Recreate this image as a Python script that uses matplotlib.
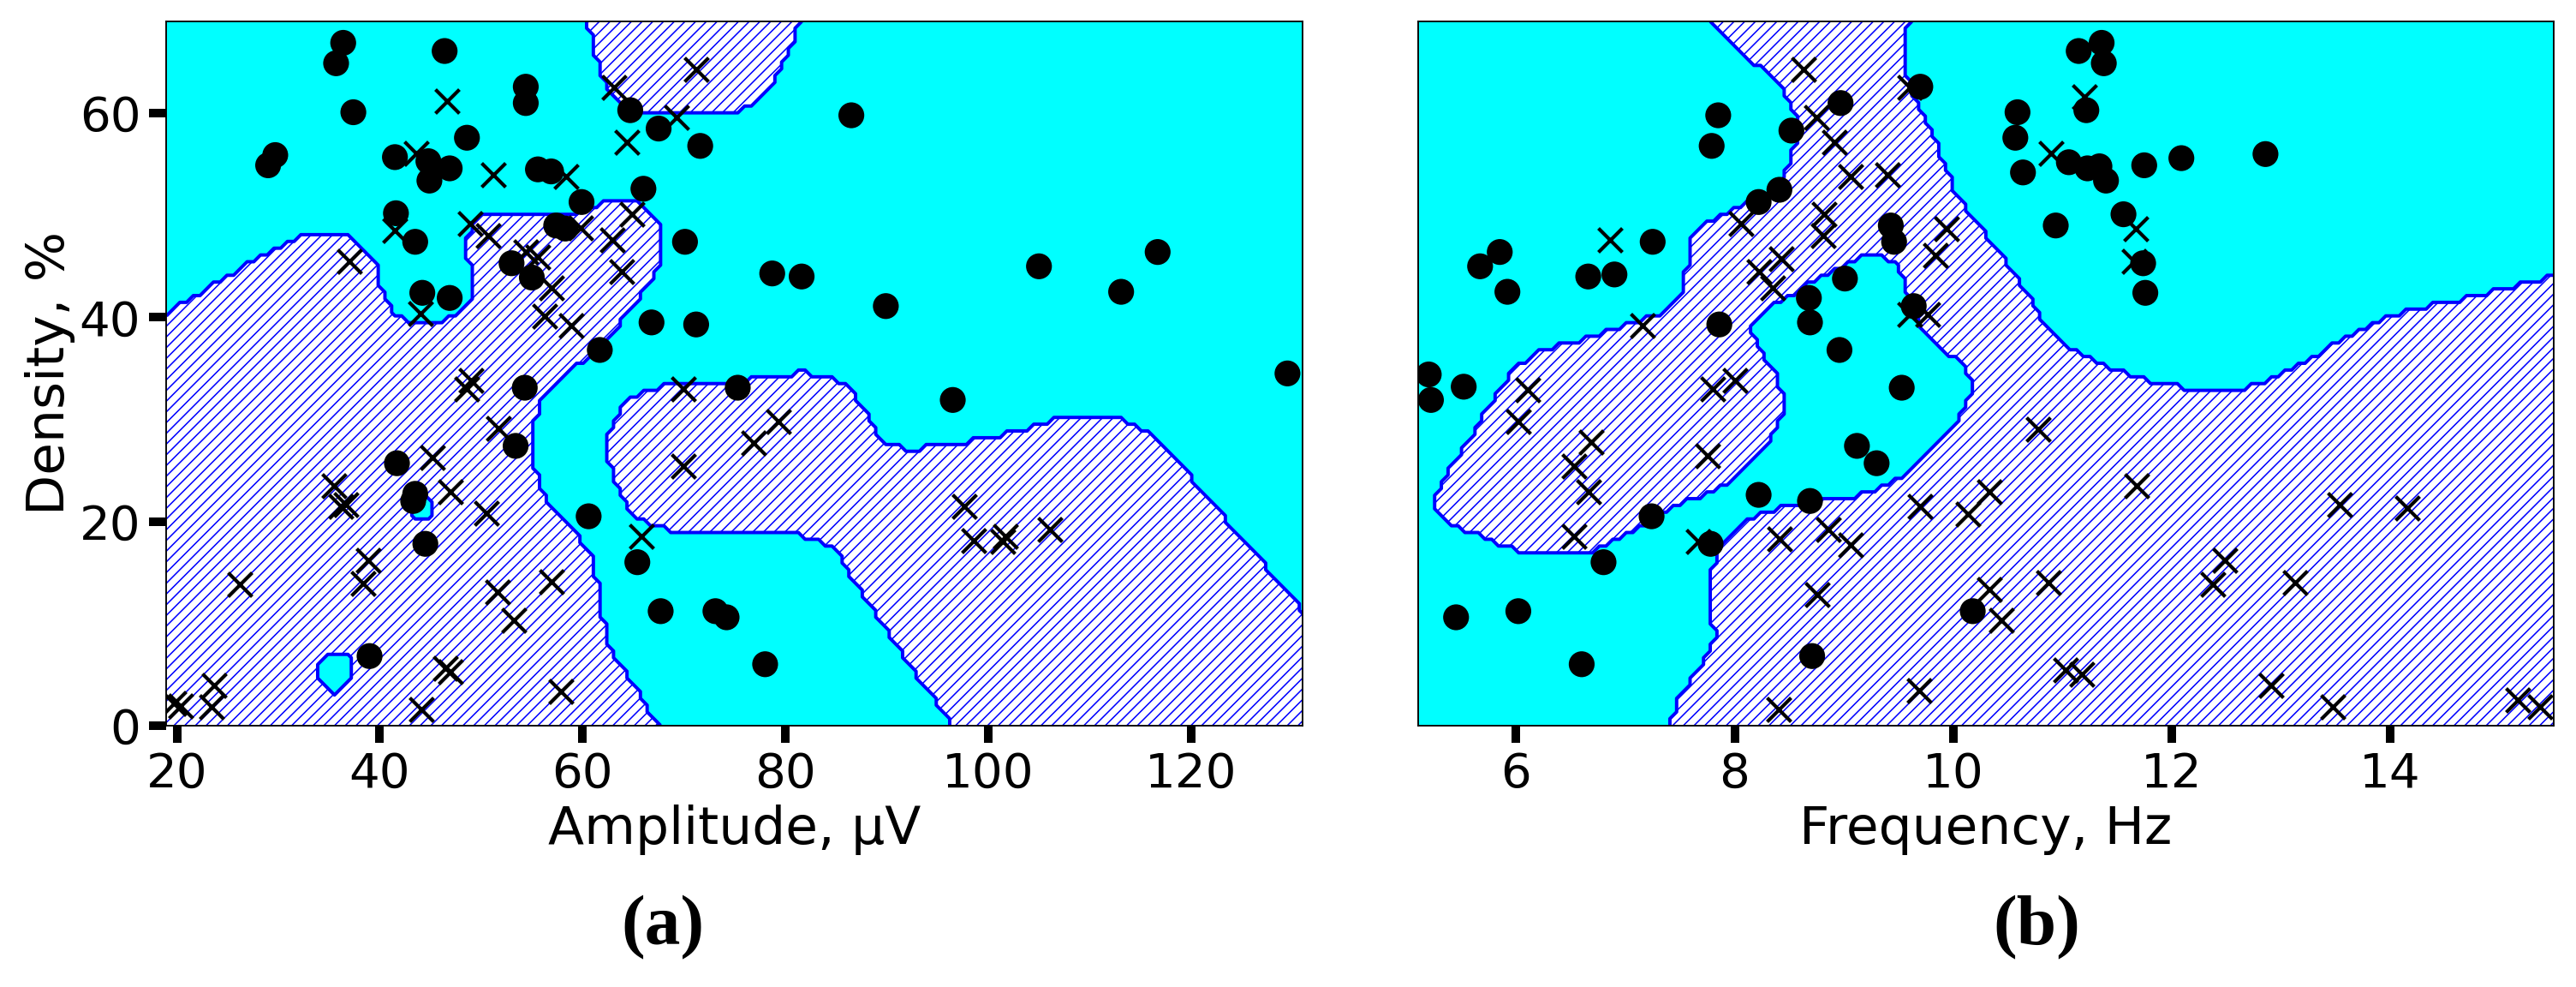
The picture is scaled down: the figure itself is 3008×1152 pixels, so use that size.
import numpy as np
import matplotlib
matplotlib.use("Agg")
import matplotlib.pyplot as plt

# ---------------- data ----------------
# Panel (a): Amplitude (uV) vs Density (%)
amp_dot_x = [36.4, 35.7, 46.4, 54.4, 54.4, 37.4, 29.7, 29.0, 41.5, 44.8, 46.9, 44.9, 48.6, 55.6,
             56.9, 59.9, 64.7, 67.5, 71.6, 66.0, 41.6, 43.5, 57.4, 58.3, 70.1, 53.0, 55.0, 44.2,
             46.9, 66.8, 71.2, 61.7, 86.5, 78.7, 81.6, 89.9, 105.0, 116.7, 113.1, 129.5, 54.3,
             53.4, 41.7, 43.5, 43.3, 44.5, 60.6, 65.4, 67.7, 73.1, 74.2, 39.0, 75.3, 96.5, 78.0]
amp_dot_y = [66.9, 64.9, 66.1, 62.6, 61.0, 60.1, 55.9, 54.9, 55.7, 55.3, 54.6, 53.4, 57.6, 54.5,
             54.3, 51.3, 60.3, 58.5, 56.8, 52.6, 50.2, 47.4, 49.0, 48.7, 47.4, 45.3, 43.9, 42.4,
             41.9, 39.5, 39.3, 36.8, 59.8, 44.3, 44.0, 41.1, 45.0, 46.4, 42.5, 34.5, 33.1,
             27.4, 25.7, 22.7, 22.0, 17.8, 20.5, 16.0, 11.2, 11.2, 10.6, 6.8, 33.1, 31.9, 6.0]
amp_cross_x = [71.2, 63.1, 46.6, 69.3, 64.4, 43.6, 51.2, 58.4, 48.9, 50.7, 59.8, 64.9, 62.9, 41.5,
               63.9, 37.0, 54.4, 55.6, 56.9, 56.3, 58.9, 44.0, 49.0, 48.6, 69.9, 51.7, 45.2, 35.5,
               36.2, 36.7, 47.0, 50.5, 38.9, 38.4, 26.2, 69.9, 65.8, 56.9, 51.6, 53.2, 47.0, 46.5,
               57.9, 44.1, 23.7, 23.4, 19.7, 20.4, 76.9, 79.3, 97.6, 98.6, 101.4, 101.7, 106.1]
amp_cross_y = [64.3, 62.5, 61.2, 59.6, 57.2, 56.1, 54.0, 53.8, 49.2, 48.0, 48.8, 50.1, 47.6, 48.5,
               44.5, 45.5, 46.4, 45.9, 42.9, 40.1, 39.2, 40.4, 33.8, 33.0, 33.0, 29.1, 26.3, 23.5,
               21.5, 21.6, 22.9, 20.8, 16.2, 13.9, 13.8, 25.4, 18.5, 14.1, 13.1, 10.3, 5.3, 5.6,
               3.3, 1.6, 3.9, 1.8, 2.2, 1.9, 27.7, 29.8, 21.5, 18.1, 18.0, 18.5, 19.2]

# Panel (b): Frequency (Hz) vs Density (%)
freq_dot_x = [7.85, 7.79, 8.97, 8.52, 9.70, 8.41, 8.22, 7.25, 5.85, 5.67, 5.92, 6.66, 6.90, 9.43,
              9.46, 9.01, 8.68, 8.69, 8.96, 7.86, 9.64, 5.20, 5.52, 5.22, 11.15, 11.36, 11.38,
              10.59, 11.22, 10.57, 10.64, 11.06, 11.23, 11.34, 11.40, 11.75, 12.09, 12.86, 10.94,
              11.56, 11.74, 11.76, 7.24, 6.80, 5.45, 6.02, 6.60, 8.22, 8.69, 7.78, 8.71, 10.18,
              9.53, 9.12, 9.30]
freq_dot_y = [59.8, 56.8, 61.0, 58.3, 62.6, 52.5, 51.3, 47.4, 46.4, 45.0, 42.5, 44.0, 44.2, 49.0,
              47.4, 43.8, 41.9, 39.5, 36.8, 39.3, 41.1, 34.4, 33.2, 31.9, 66.1, 66.9, 64.9,
              60.1, 60.3, 57.6, 54.2, 55.2, 54.6, 54.8, 53.4, 54.9, 55.6, 56.0, 49.0,
              50.1, 45.3, 42.4, 20.5, 16.0, 10.6, 11.2, 6.0, 22.6, 22.0, 17.8, 6.8, 11.2,
              33.1, 27.4, 25.7]
freq_cross_x = [8.63, 8.75, 8.91, 9.06, 9.40, 9.60, 8.82, 8.81, 8.06, 6.86, 8.43, 8.22, 8.35, 9.94,
                9.84, 7.16, 9.60, 9.77, 8.00, 7.80, 11.20, 10.90, 11.67, 11.66, 6.11, 6.02, 6.69,
                6.53, 6.66, 6.53, 7.75, 7.67, 8.41, 8.86, 9.06, 9.70, 10.14, 8.76, 9.69, 8.40,
                10.78, 11.68, 10.33, 13.54, 14.16, 12.49, 12.38, 13.13, 10.33, 10.87, 10.44,
                11.03, 11.18, 12.91, 13.48, 15.17, 15.37]
freq_cross_y = [64.3, 59.6, 57.2, 53.8, 54.0, 62.5, 50.1, 48.0, 49.2, 47.6, 45.7, 44.5, 42.9, 48.7,
                46.1, 39.2, 40.3, 40.3, 33.8, 33.0, 61.6, 56.1, 48.7, 45.5, 32.9, 29.8, 27.8,
                25.4, 22.9, 18.5, 26.4, 18.0, 18.3, 19.2, 17.7, 21.5, 20.7, 12.8, 3.4, 1.6,
                29.0, 23.5, 22.9, 21.6, 21.3, 16.2, 13.8, 14.0, 13.3, 14.0, 10.3,
                5.4, 5.0, 3.9, 1.8, 2.5, 1.8]

amp_ticks = [20, 40, 60, 80, 100, 120]
freq_ticks = [6, 8, 10, 12, 14]
density_ticks = [0, 20, 40, 60]

# ---------------- style ----------------
DPI = 150
plt.rcParams["font.family"] = ["DejaVu Sans"]
plt.rcParams["hatch.color"] = "#0000ff"
plt.rcParams["hatch.linewidth"] = 0.75

CYAN = "#00ffff"
BLUE = "#0000ff"


def lse_kernel(gx, gy, px, py, sx, sy, h):
    px = np.asarray(px, float)[:, None, None]
    py = np.asarray(py, float)[:, None, None]
    d2 = ((gx[None] - px) / sx) ** 2 + ((gy[None] - py) / sy) ** 2
    a = -d2 / (2.0 * h * h)
    m = a.max(axis=0)
    return m + np.log(np.exp(a - m).sum(axis=0))


def draw_panel(ax, dx, dy, cx, cy, xlim, ylim, h):
    # class map predicted on a grid (1 = circle class, 0 = cross class),
    # kernel classifier on standardised features
    allx = np.concatenate([dx, cx])
    ally = np.concatenate([dy, cy])
    sx, sy = allx.std(), ally.std()
    gx1 = np.linspace(xlim[0], xlim[1], 170)
    gy1 = np.linspace(ylim[0], ylim[1], 105)
    GX, GY = np.meshgrid(gx1, gy1)
    score = lse_kernel(GX, GY, dx, dy, sx, sy, h) - lse_kernel(GX, GY, cx, cy, sx, sy, h)
    label = (score > 0).astype(float)
    ax.contourf(GX, GY, label, levels=[-0.5, 0.5, 1.5], colors=["white", CYAN],
                hatches=["////", None], zorder=1)
    ax.contour(GX, GY, label, levels=[0.5], colors=BLUE, linewidths=1.9, zorder=2)
    ax.scatter(dx, dy, s=210, c="black", marker="o", edgecolors="none", zorder=4)
    ax.scatter(cx, cy, s=180, c="black", marker="x", linewidths=2.0, zorder=4)
    ax.set_xlim(*xlim)
    ax.set_ylim(*ylim)
    for sp in ax.spines.values():
        sp.set_linewidth(0.9)
        sp.set_zorder(5)


fig = plt.figure(figsize=(3008 / DPI, 1152 / DPI), dpi=DPI)
ax_a = fig.add_axes([0.0646, 0.265, 0.4411, 0.7133])
ax_b = fig.add_axes([0.5504, 0.265, 0.4410, 0.7133])

ylim = (0.0, 69.0)
draw_panel(ax_a, amp_dot_x, amp_dot_y, amp_cross_x, amp_cross_y, (18.97, 131.0), ylim, 0.24)
draw_panel(ax_b, freq_dot_x, freq_dot_y, freq_cross_x, freq_cross_y, (5.10, 15.50), ylim, 0.24)

TICK_FS = 27
LABEL_FS = 29.5

ax_a.set_xticks(amp_ticks)
ax_a.set_yticks(density_ticks)
ax_a.tick_params(axis="both", labelsize=TICK_FS, length=9.6, width=4.8, pad=4.8, direction="out")
ax_a.set_xlabel("Amplitude, µV", fontsize=LABEL_FS)
ax_a.set_ylabel("Density, %", fontsize=LABEL_FS)
ax_a.xaxis.set_label_coords(0.5, -0.112)
ax_a.yaxis.set_label_coords(-0.080, 0.5)

ax_b.set_xticks(freq_ticks)
ax_b.set_yticks(density_ticks)
ax_b.tick_params(axis="x", labelsize=TICK_FS, length=9.6, width=4.8, pad=4.8, direction="out")
ax_b.tick_params(axis="y", length=0, labelleft=False)
ax_b.set_xlabel("Frequency, Hz", fontsize=LABEL_FS)
ax_b.xaxis.set_label_coords(0.5, -0.112)

fig.text(774 / 3008, 1 - 1083 / 1152, "(a)", ha="center", va="center",
         fontsize=40, fontweight="bold", family=["Liberation Serif", "DejaVu Serif"])
fig.text(2378 / 3008, 1 - 1083 / 1152, "(b)", ha="center", va="center",
         fontsize=40, fontweight="bold", family=["Liberation Serif", "DejaVu Serif"])

fig.savefig("out.png", dpi=DPI)
